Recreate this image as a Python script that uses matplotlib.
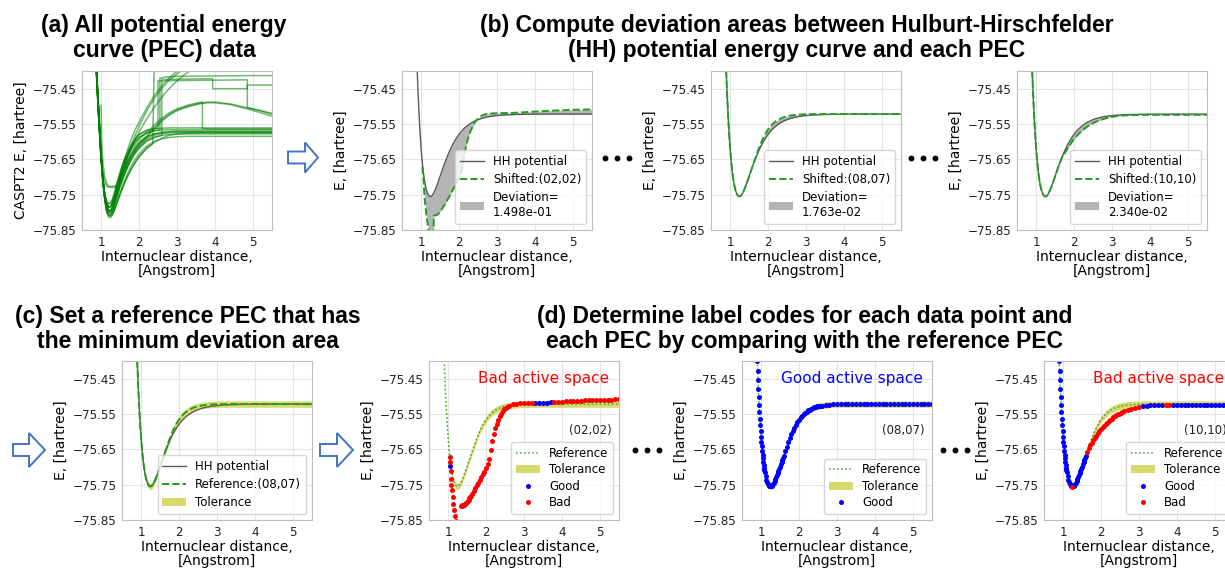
import numpy as np
import matplotlib
matplotlib.use('Agg')
import matplotlib.pyplot as plt
from matplotlib.patches import Polygon, Patch
from matplotlib.lines import Line2D

# ---------------- data ----------------
# common internuclear distance grid (Angstrom) for the HH / reference / active-space curves
X = np.array([
    0.90, 0.91, 0.92, 0.93, 0.94, 0.95, 0.96, 0.97, 0.98, 0.99, 1.00, 1.01, 1.02, 1.03, 1.04, 1.05, 1.06, 1.07, 1.08, 1.09, 1.10,
    1.12, 1.14, 1.16, 1.18, 1.20, 1.22, 1.24, 1.26, 1.28, 1.30, 1.32, 1.34, 1.36, 1.38, 1.40, 1.42, 1.44, 1.46, 1.48, 1.50,
    1.52, 1.54, 1.56, 1.58, 1.60,
    1.64, 1.68, 1.72, 1.76, 1.80, 1.84, 1.88, 1.92, 1.96, 2.00, 2.04, 2.08, 2.12, 2.16, 2.20, 2.24, 2.28, 2.32, 2.36, 2.40,
    2.44, 2.48, 2.52, 2.56, 2.60,
    2.70, 2.80, 2.90, 3.00, 3.10, 3.20, 3.30, 3.40, 3.50, 3.60, 3.70, 3.80, 3.90, 4.00, 4.10, 4.20, 4.30, 4.40, 4.50, 4.60,
    4.70, 4.80, 4.90, 5.00, 5.10, 5.20, 5.30, 5.40, 5.50])

# Hulburt-Hirschfelder potential
HH_E = np.array([
    -75.3986, -75.4274, -75.4543, -75.4794, -75.5029, -75.5249, -75.5454, -75.5645, -75.5823, -75.5989, -75.6143,
    -75.6285, -75.6417, -75.6539, -75.6652, -75.6755, -75.6850, -75.6937, -75.7016, -75.7089, -75.7154,
    -75.7267, -75.7357, -75.7427, -75.7479, -75.7515, -75.7538, -75.7549, -75.7548, -75.7536, -75.7513, -75.7481,
    -75.7442, -75.7396, -75.7346, -75.7292, -75.7234, -75.7175, -75.7114, -75.7051, -75.6989, -75.6926, -75.6863,
    -75.6801, -75.6739, -75.6679,
    -75.6562, -75.6451, -75.6346, -75.6247, -75.6156, -75.6071, -75.5993, -75.5921, -75.5855, -75.5795, -75.5739,
    -75.5689, -75.5644, -75.5602, -75.5565, -75.5530, -75.5500, -75.5472, -75.5447, -75.5424, -75.5404, -75.5385,
    -75.5369, -75.5354, -75.5340,
    -75.5312, -75.5290, -75.5274, -75.5261, -75.5251, -75.5244, -75.5238, -75.5234, -75.5231, -75.5228, -75.5226,
    -75.5225, -75.5224, -75.5223, -75.5222, -75.5221, -75.5221, -75.5221, -75.5220, -75.5220, -75.5220, -75.5220,
    -75.5220, -75.5220, -75.5220, -75.5220, -75.5220, -75.5220, -75.5220])

# (08,07) active space = reference PEC
REF_0807 = np.array([
    -75.3986, -75.4274, -75.4543, -75.4794, -75.5029, -75.5249, -75.5454, -75.5645, -75.5823, -75.5989, -75.6143,
    -75.6285, -75.6417, -75.6539, -75.6652, -75.6755, -75.6850, -75.6937, -75.7016, -75.7089, -75.7154,
    -75.7267, -75.7357, -75.7427, -75.7479, -75.7515, -75.7538, -75.7549, -75.7548, -75.7536, -75.7513, -75.7481,
    -75.7442, -75.7396, -75.7346, -75.7292, -75.7234, -75.7175, -75.7114, -75.7051, -75.6989, -75.6926, -75.6863,
    -75.6801, -75.6739, -75.6679,
    -75.6552, -75.6431, -75.6306, -75.6187, -75.6076, -75.5971, -75.5883, -75.5801, -75.5725, -75.5660, -75.5599,
    -75.5549, -75.5504, -75.5464, -75.5430, -75.5400, -75.5375, -75.5352, -75.5332, -75.5314, -75.5299, -75.5287,
    -75.5277, -75.5268, -75.5260,
    -75.5245, -75.5235, -75.5229, -75.5224, -75.5221, -75.5220, -75.5219, -75.5219, -75.5219, -75.5219, -75.5219,
    -75.5219, -75.5219, -75.5219, -75.5219, -75.5219, -75.5219, -75.5219, -75.5219, -75.5219, -75.5219, -75.5219,
    -75.5219, -75.5219, -75.5219, -75.5219, -75.5219, -75.5219, -75.5219])

# (02,02) active space (no points below 1.04 A)
C_0202 = np.array([
    np.nan, np.nan, np.nan, np.nan, np.nan, np.nan, np.nan, np.nan, np.nan, np.nan, np.nan, np.nan, np.nan, np.nan,
    -75.672, -75.686, -75.697, -75.712, -75.735, -75.752, -75.765,
    -75.785, -75.805, -75.822, -75.838, -75.852, -75.865, -75.875, -75.882, -75.885, -75.884, -75.880, -75.809,
    -75.809, -75.8085, -75.808, -75.807, -75.806, -75.804, -75.801, -75.798, -75.795, -75.792, -75.789, -75.785, -75.782,
    -75.775, -75.768, -75.760, -75.752, -75.744, -75.736, -75.728, -75.721, -75.713, -75.704, -75.692, -75.678,
    -75.652, -75.627, -75.606, -75.590, -75.577, -75.566, -75.557, -75.549, -75.542, -75.537, -75.533, -75.529, -75.526,
    -75.522, -75.5205, -75.520, -75.5195, -75.519, -75.519, -75.5188, -75.5185, -75.518, -75.5175, -75.517, -75.5162,
    -75.5155, -75.5148, -75.5142, -75.5136, -75.513, -75.5125, -75.512, -75.5115, -75.511, -75.5106, -75.5102,
    -75.5098, -75.5095, -75.5092, -75.509, -75.5088, -75.5086])

# (10,10) active space
C_1010 = np.array([
    -75.3986, -75.4274, -75.4543, -75.4794, -75.5029, -75.5249, -75.5454, -75.5645, -75.5823, -75.5989, -75.6143,
    -75.6285, -75.6417, -75.6539, -75.6652, -75.6755, -75.6850, -75.6937, -75.7016, -75.7089, -75.7154,
    -75.7267, -75.7357, -75.7427, -75.7479, -75.7515, -75.7540, -75.7552, -75.7551, -75.7538, -75.7514, -75.7482,
    -75.7443, -75.7397, -75.7347, -75.7293, -75.7235, -75.7176, -75.7115, -75.7052, -75.6990, -75.6927, -75.6864,
    -75.6802, -75.6740, -75.6680,
    -75.6565, -75.6460, -75.6390, -75.6320, -75.6250, -75.6180, -75.6112, -75.6048, -75.5985, -75.5930, -75.5878,
    -75.5830, -75.5785, -75.5742, -75.5703, -75.5665, -75.5630, -75.5597, -75.5566, -75.5538, -75.5512, -75.5488,
    -75.5466, -75.5446, -75.5428,
    -75.5385, -75.5350, -75.5320, -75.5297, -75.5280, -75.5268, -75.5259, -75.5253, -75.5249, -75.5246, -75.5244,
    -75.5243, -75.5242, -75.5241, -75.5241, -75.5241, -75.5241, -75.5241, -75.5241, -75.5241, -75.5241, -75.5241,
    -75.5241, -75.5241, -75.5241, -75.5241, -75.5241, -75.5241, -75.5241])

TOL = 0.009
DEVIATIONS = ['1.498e-01', '1.763e-02', '2.340e-02']
# x ranges labelled good for (02,02), bad for (10,10)
GOOD_0202 = [(1.055, 1.065), (3.25, 3.75)]
BAD_1010 = [(1.235, 1.245), (1.62, 3.05), (3.65, 3.85)]

# panel (a): all PECs
XA = [0.87, 0.90, 0.95, 1.00, 1.05, 1.10, 1.15, 1.20, 1.25, 1.30, 1.35, 1.40, 1.50, 1.60, 1.70,
      1.80, 1.90, 2.00, 2.20, 2.40, 2.60, 2.80, 3.00, 3.30, 3.60, 4.00, 4.40, 4.80, 5.20, 5.50]
A_MAIN = [
    [-75.36, -75.43, -75.53, -75.63, -75.71, -75.765, -75.800, -75.814, -75.815, -75.808, -75.795, -75.778, -75.745,
     -75.715, -75.690, -75.668, -75.650, -75.635, -75.613, -75.600, -75.592, -75.588, -75.586, -75.585, -75.585,
     -75.585, -75.585, -75.585, -75.585, -75.585],
    [-75.37, -75.44, -75.54, -75.635, -75.712, -75.762, -75.792, -75.804, -75.805, -75.797, -75.782, -75.763, -75.728,
     -75.698, -75.672, -75.650, -75.632, -75.618, -75.598, -75.588, -75.582, -75.580, -75.579, -75.578, -75.578,
     -75.578, -75.578, -75.578, -75.578, -75.578],
    [-75.37, -75.44, -75.54, -75.635, -75.708, -75.755, -75.783, -75.794, -75.795, -75.786, -75.770, -75.750, -75.713,
     -75.681, -75.655, -75.633, -75.615, -75.601, -75.586, -75.578, -75.575, -75.573, -75.572, -75.572, -75.572,
     -75.572, -75.572, -75.572, -75.572, -75.572],
    [-75.38, -75.45, -75.55, -75.640, -75.708, -75.752, -75.776, -75.785, -75.784, -75.775, -75.758, -75.737, -75.698,
     -75.665, -75.638, -75.616, -75.600, -75.588, -75.575, -75.569, -75.567, -75.566, -75.566, -75.566, -75.566,
     -75.566, -75.566, -75.566, -75.566, -75.566],
    [-75.36, -75.43, -75.535, -75.632, -75.711, -75.764, -75.797, -75.809, -75.810, -75.805, -75.794, -75.780, -75.750,
     -75.722, -75.698, -75.677, -75.659, -75.643, -75.619, -75.602, -75.590, -75.582, -75.578, -75.576, -75.575,
     -75.575, -75.575, -75.575, -75.575, -75.575],
    [-75.38, -75.45, -75.55, -75.645, -75.710, -75.750, -75.770, -75.776, -75.774, -75.764, -75.747, -75.726, -75.688,
     -75.655, -75.630, -75.609, -75.592, -75.580, -75.568, -75.563, -75.562, -75.561, -75.561, -75.561, -75.561,
     -75.561, -75.561, -75.561, -75.561, -75.561],
    [-75.38, -75.45, -75.55, -75.64, -75.69, -75.715, -75.726, -75.728, -75.727, -75.726, -75.726, -75.724, -75.710,
     -75.695, -75.668, -75.646, -75.628, -75.613, -75.593, -75.582, -75.577, -75.575, -75.574, -75.574, -75.574,
     -75.574, -75.574, -75.574, -75.574, -75.574],
]
A_UPPER_X = [1.00, 1.02, 1.05, 1.10, 1.15, 1.20, 1.25, 1.30, 1.35, 1.40, 1.45, 1.50, 1.55, 1.57, 1.60,
             1.70, 1.80, 1.90, 2.00, 2.20, 2.40, 2.60, 2.80, 3.00, 3.60, 4.40, 5.50]
A_UPPER_Y = [-75.497, -75.60, -75.66, -75.70, -75.718, -75.726, -75.729, -75.730, -75.729, -75.727, -75.720, -75.705,
             -75.690, -75.675, -75.685, -75.660, -75.638, -75.620, -75.606, -75.588, -75.578, -75.573, -75.571,
             -75.570, -75.570, -75.570, -75.570]
XH = [0.87, 0.90, 0.95, 1.00, 1.05, 1.10, 1.15, 1.20, 1.25, 1.30, 1.35, 1.40, 1.50, 1.60, 1.70, 1.80,
      1.90, 2.00, 2.20, 2.40, 2.60, 2.80, 3.00, 3.30, 3.60, 3.80, 4.00, 4.40, 4.80, 5.20, 5.50]
A_HUMP = [
    [-75.37, -75.44, -75.54, -75.635, -75.708, -75.755, -75.783, -75.794, -75.795, -75.786, -75.770, -75.750, -75.713,
     -75.681, -75.656, -75.636, -75.620, -75.606, -75.584, -75.560, -75.539, -75.522, -75.510, -75.499, -75.491,
     -75.488, -75.488, -75.493, -75.503, -75.513, -75.522],
    [-75.37, -75.44, -75.545, -75.638, -75.709, -75.757, -75.786, -75.798, -75.799, -75.791, -75.776, -75.757, -75.721,
     -75.690, -75.664, -75.642, -75.625, -75.610, -75.588, -75.564, -75.542, -75.525, -75.512, -75.501, -75.493,
     -75.490, -75.490, -75.495, -75.506, -75.518, -75.528],
]
A_DROP_X = [0.87, 0.90, 0.95, 1.00, 1.05, 1.10, 1.15, 1.20, 1.25, 1.30, 1.35, 1.40, 1.50, 1.60, 1.70, 1.80,
            1.90, 2.00, 2.20, 2.40, 2.60, 2.80, 3.00, 3.30, 3.60, 3.67, 3.67, 4.00, 4.40, 4.80, 5.20, 5.50]
A_DROP_Y = [-75.38, -75.45, -75.55, -75.64, -75.708, -75.752, -75.776, -75.785, -75.784, -75.775, -75.758, -75.737,
            -75.700, -75.668, -75.643, -75.623, -75.607, -75.594, -75.575, -75.553, -75.533, -75.518, -75.507,
            -75.496, -75.489, -75.488, -75.563, -75.564, -75.564, -75.564, -75.564, -75.564]
XS = [0.87, 0.90, 0.95, 1.00, 1.05, 1.10, 1.15, 1.20, 1.25, 1.30, 1.35, 1.40, 1.50, 1.60, 1.70, 1.80,
      1.90, 2.00, 2.20, 2.40, 2.60, 2.80, 3.00, 3.20, 3.50]
A_STEEP = [
    [-75.37, -75.44, -75.54, -75.635, -75.71, -75.758, -75.787, -75.799, -75.800, -75.792, -75.777, -75.758, -75.718,
     -75.680, -75.643, -75.610, -75.582, -75.557, -75.514, -75.478, -75.449, -75.426, -75.408, -75.392, -75.37],
    [-75.38, -75.45, -75.55, -75.64, -75.708, -75.752, -75.776, -75.785, -75.784, -75.775, -75.757, -75.735, -75.695,
     -75.658, -75.623, -75.592, -75.566, -75.545, -75.505, -75.470, -75.442, -75.419, -75.400, -75.385, -75.36],
    [-75.37, -75.44, -75.54, -75.635, -75.708, -75.755, -75.783, -75.794, -75.795, -75.786, -75.770, -75.750, -75.712,
     -75.676, -75.645, -75.618, -75.594, -75.573, -75.536, -75.503, -75.474, -75.449, -75.428, -75.410, -75.388],
]
# curves that jump to a higher state
A_JUMP_X = [
    [0.87, 0.90, 0.95, 1.00, 1.05, 1.10, 1.15, 1.20, 1.25, 1.30, 1.35, 1.40, 1.50, 1.60, 1.70, 1.80, 1.90, 2.00,
     2.20, 2.40, 2.55, 2.55, 2.70, 3.00, 4.00, 5.00, 5.50],
    [0.87, 0.90, 0.95, 1.00, 1.05, 1.10, 1.15, 1.20, 1.25, 1.30, 1.35, 1.40, 1.50, 1.60, 1.70, 1.80, 1.90, 2.00,
     2.20, 2.40, 2.60, 2.60, 3.00, 3.94, 3.94, 4.85, 4.85, 5.50],
    [0.87, 0.90, 0.95, 1.00, 1.05, 1.10, 1.15, 1.20, 1.25, 1.30, 1.35, 1.40, 1.50, 1.60, 1.70, 1.80, 1.90, 2.00,
     2.20, 2.40, 2.50, 2.50, 3.00, 4.00, 4.85, 4.85, 5.20, 5.50],
    [0.87, 0.90, 0.95, 1.00, 1.05, 1.10, 1.15, 1.20, 1.25, 1.30, 1.35, 1.40, 1.50, 1.60, 1.70, 1.80, 1.90, 2.00,
     2.20, 2.36, 2.40],
]
A_JUMP_Y = [
    [-75.38, -75.45, -75.55, -75.64, -75.708, -75.752, -75.776, -75.785, -75.784, -75.775, -75.758, -75.737, -75.698,
     -75.665, -75.638, -75.616, -75.600, -75.588, -75.575, -75.569, -75.567, -75.420, -75.417, -75.415, -75.414,
     -75.413, -75.413],
    [-75.37, -75.44, -75.54, -75.635, -75.712, -75.762, -75.792, -75.804, -75.805, -75.797, -75.782, -75.763, -75.728,
     -75.698, -75.672, -75.650, -75.632, -75.618, -75.598, -75.588, -75.582, -75.424, -75.423, -75.422, -75.450,
     -75.450, -75.440, -75.440],
    [-75.38, -75.45, -75.55, -75.645, -75.710, -75.750, -75.770, -75.776, -75.774, -75.764, -75.747, -75.726, -75.688,
     -75.655, -75.630, -75.609, -75.592, -75.580, -75.568, -75.563, -75.562, -75.428, -75.427, -75.426, -75.425,
     -75.503, -75.512, -75.520],
    [-75.37, -75.44, -75.535, -75.632, -75.711, -75.764, -75.797, -75.809, -75.810, -75.805, -75.794, -75.780, -75.750,
     -75.722, -75.698, -75.677, -75.659, -75.643, -75.619, -75.606, -75.38],
]

# ---------------- figure ----------------
W, H = 1225, 568
plt.rcParams['font.family'] = ['DejaVu Sans']
fig = plt.figure(figsize=(W / 100, H / 100), dpi=100)

YT = [-75.85, -75.75, -75.65, -75.55, -75.45]
GREEN = '#1f9e1f'
GRAY = '#5a5a5a'
BAND = '#d8d86c'


def px_axes(left, top, width=190, height=159):
    return fig.add_axes([left / W, 1 - (top + height) / H, width / W, height / H])


def style(ax, ylabel='E, [hartree]'):
    ax.set_xlim(0.5, 5.5)
    ax.set_ylim(-75.85, -75.40)
    ax.set_xticks([1, 2, 3, 4, 5])
    ax.set_yticks(YT)
    ax.set_yticklabels([('%.2f' % v).replace('-', '\u2212') for v in YT])
    ax.grid(True, color='#e4e4e4', lw=0.8)
    ax.set_axisbelow(True)
    for s in ax.spines.values():
        s.set_color('#bdbdbd')
    ax.tick_params(length=0, labelsize=8.6, pad=4, colors='#222222')
    ax.set_xlabel('Internuclear distance,\n[Angstrom]', fontsize=10, labelpad=1, linespacing=1.05)
    ax.set_ylabel(ylabel, fontsize=10, labelpad=3)


def legend(ax, handles, labels, spacing=0.45):
    ax.legend(handles, labels, loc='lower right', fontsize=8.5, framealpha=0.8, edgecolor='#cccccc',
              handlelength=2.0, borderpad=0.4, labelspacing=spacing)


def in_ranges(xs, ranges):
    m = np.zeros(len(xs), dtype=bool)
    for lo, hi in ranges:
        m |= (xs >= lo) & (xs <= hi)
    return m


# (a) all PECs
ax = px_axes(82, 71)
for ys in A_MAIN:
    ax.plot(XA, ys, color='g', alpha=0.55, lw=1.1)
ax.plot(A_UPPER_X, A_UPPER_Y, color='g', alpha=0.55, lw=1.1)
for ys in A_HUMP:
    ax.plot(XH, ys, color='g', alpha=0.55, lw=1.1)
ax.plot(A_DROP_X, A_DROP_Y, color='g', alpha=0.55, lw=1.1)
for ys in A_STEEP:
    ax.plot(XS, ys, color='g', alpha=0.55, lw=1.1)
for xs, ys in zip(A_JUMP_X, A_JUMP_Y):
    ax.plot(xs, ys, color='g', alpha=0.55, lw=1.1)
style(ax, 'CASPT2 E, [hartree]')

# (b) deviation areas
for left, curve, name, dev in zip([402, 711, 1017], [C_0202, REF_0807, C_1010],
                                  ['(02,02)', '(08,07)', '(10,10)'], DEVIATIONS):
    ax = px_axes(left, 71)
    ok = np.isfinite(curve)
    fill = ax.fill_between(X, HH_E, curve, where=ok, color='#b4b4b4', lw=0)
    hh, = ax.plot(X, HH_E, color=GRAY, lw=1.0)
    sh, = ax.plot(X, curve, color=GREEN, ls='--', lw=1.4)
    style(ax)
    legend(ax, [hh, sh, fill], ['HH potential', 'Shifted:' + name, 'Deviation=\n' + dev])

# (c) reference PEC with tolerance
ax = px_axes(122, 361)
band = ax.fill_between(X, REF_0807 - TOL, REF_0807 + TOL, color=BAND, lw=0)
hh, = ax.plot(X, HH_E, color=GRAY, lw=1.0)
rf, = ax.plot(X, REF_0807, color=GREEN, ls='--', lw=1.4)
style(ax)
legend(ax, [hh, rf, band], ['HH potential', 'Reference:(08,07)', 'Tolerance'])

# (d) label codes
good_masks = [in_ranges(X, GOOD_0202), np.ones(len(X), dtype=bool), ~in_ranges(X, BAD_1010)]
for left, curve, good, name, verdict, vcol in zip(
        [429, 742, 1044], [C_0202, REF_0807, C_1010], good_masks, ['(02,02)', '(08,07)', '(10,10)'],
        ['Bad active space', 'Good active space', 'Bad active space'], ['#ff0000', '#0000ff', '#ff0000']):
    ax = px_axes(left, 361)
    band = ax.fill_between(X, REF_0807 - TOL, REF_0807 + TOL, color=BAND, lw=0)
    rf, = ax.plot(X, REF_0807, color='#2eaa2e', ls=':', lw=1.1)
    bad = ~good & np.isfinite(curve)
    g, = ax.plot(X[good], curve[good], 'o', color='#0000ff', ms=3.6, mew=0)
    handles, labels = [rf, band, g], ['Reference', 'Tolerance', 'Good']
    if bad.any():
        b, = ax.plot(X[bad], curve[bad], 'o', color='#ff0000', ms=3.6, mew=0)
        handles.append(b)
        labels.append('Bad')
    style(ax)
    ax.text(0.95, 0.89, verdict, color=vcol, fontsize=11, ha='right', va='center', transform=ax.transAxes)
    ax.text(0.96, 0.56, name, fontsize=8.5, ha='right', va='center', transform=ax.transAxes, color='#222222')
    legend(ax, handles, labels, spacing=0.3)

# titles
TITLE = dict(ha='center', va='baseline', fontsize=16.5, weight='bold', family='Liberation Sans')
fig.text(164 / W, 1 - 31.7 / H, '(a) All potential energy', **TITLE)
fig.text(164 / W, 1 - 57.3 / H, 'curve (PEC) data', **TITLE)
fig.text(797 / W, 1 - 31.7 / H, '(b) Compute deviation areas between Hulburt-Hirschfelder', **TITLE)
fig.text(797 / W, 1 - 57.3 / H, '(HH) potential energy curve and each PEC', **TITLE)
fig.text(188 / W, 1 - 323.3 / H, '(c) Set a reference PEC that has', **TITLE)
fig.text(188 / W, 1 - 348.3 / H, 'the minimum deviation area', **TITLE)
fig.text(805 / W, 1 - 323.3 / H, '(d) Determine label codes for each data point and', **TITLE)
fig.text(805 / W, 1 - 348.3 / H, 'each PEC by comparing with the reference PEC', **TITLE)


# hollow block arrows
def block_arrow(x0, x1, xtip, yc, sh, hh):
    pts = [(x0, yc - sh), (x1, yc - sh), (x1, yc - hh), (xtip, yc), (x1, yc + hh), (x1, yc + sh), (x0, yc + sh)]
    pts = [(px / W, 1 - py / H) for px, py in pts]
    fig.add_artist(Polygon(pts, closed=True, transform=fig.transFigure, fc='white', ec='#4472c4', lw=1.4))


block_arrow(288, 305, 318, 157.5, 6, 15)
block_arrow(13, 29, 45, 450, 6, 17)
block_arrow(320, 337, 353, 450, 6, 17)

# ellipsis dots between panels
for xs, yc in [([605, 617, 629], 158), ([911, 923, 935], 158), ([635, 647, 659], 450), ([943, 955, 967], 450)]:
    fig.add_artist(Line2D([v / W for v in xs], [1 - yc / H] * 3, ls='', marker='o', ms=3.2, color='k',
                          transform=fig.transFigure))

fig.savefig('out.png', dpi=100)
